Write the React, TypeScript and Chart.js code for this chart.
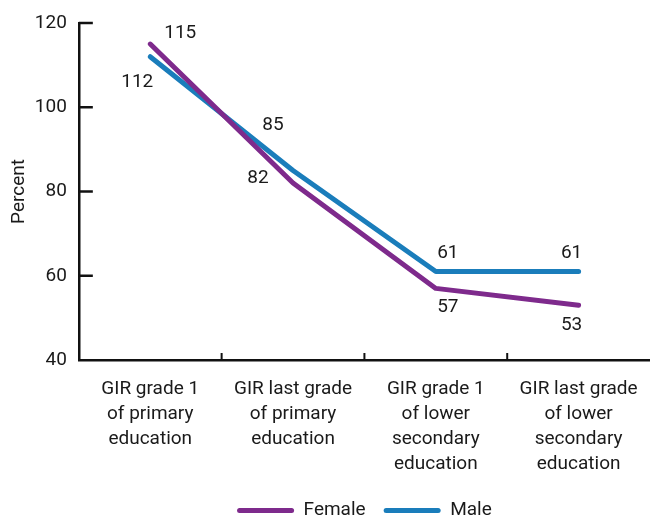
import React, { useEffect, useRef } from "react";
import { Chart, registerables } from "chart.js";

Chart.register(...registerables);

const categories: string[][] = [
  ["GIR grade 1", "of primary", "education"],
  ["GIR last grade", "of primary", "education"],
  ["GIR grade 1", "of lower", "secondary", "education"],
  ["GIR last grade", "of lower", "secondary", "education"],
];
const femaleValues = [115, 82, 57, 53];
const maleValues = [112, 85, 61, 61];
const yTicks = [40, 60, 80, 100, 120];

// label placement offsets (styling only)
const femaleLabelOffsets = [[30, -11], [-35, -5], [12, 19], [-7, 20]];
const maleLabelOffsets = [[-13, 26], [-20, -45], [12, -18], [-7, -18]];

const FONT = "Roboto, 'Noto Sans', sans-serif";
const FS = 19;
const PURPLE = "#7e2a8c";
const BLUE = "#1a7dbb";

const axisTicksPlugin = {
  id: "axisTicks",
  afterDraw(chart: any) {
    const ctx = chart.ctx;
    const x = chart.scales.x;
    const y = chart.scales.y;
    ctx.save();
    ctx.strokeStyle = "#111";
    ctx.lineWidth = 2.5;
    const left = chart.chartArea.left;
    const bottom = chart.chartArea.bottom;
    yTicks.forEach((v) => {
      if (v === yTicks[0]) return;
      const py = y.getPixelForValue(v);
      ctx.beginPath();
      ctx.moveTo(left, py);
      ctx.lineTo(left + 14, py);
      ctx.stroke();
    });
    ctx.lineWidth = 2;
    for (let i = 0; i < categories.length - 1; i++) {
      const px = (x.getPixelForValue(i) + x.getPixelForValue(i + 1)) / 2;
      ctx.beginPath();
      ctx.moveTo(px, bottom);
      ctx.lineTo(px, bottom - 7);
      ctx.stroke();
    }
    ctx.restore();
  },
};

const dataLabelsPlugin = {
  id: "dataLabels",
  afterDatasetsDraw(chart: any) {
    const ctx = chart.ctx;
    ctx.save();
    ctx.font = `${FS}px ${FONT}`;
    ctx.fillStyle = "#1a1a1a";
    ctx.textAlign = "center";
    ctx.textBaseline = "middle";
    const offsets = [femaleLabelOffsets, maleLabelOffsets];
    chart.data.datasets.forEach((ds: any, di: number) => {
      const meta = chart.getDatasetMeta(di);
      meta.data.forEach((pt: any, i: number) => {
        const [dx, dy] = offsets[di][i];
        ctx.fillText(String(ds.data[i]), pt.x + dx, pt.y + dy);
      });
    });
    ctx.restore();
  },
};

export default function App() {
  const ref = useRef<HTMLCanvasElement | null>(null);
  useEffect(() => {
    document.body.style.margin = "0";
    const chart = new Chart(ref.current as HTMLCanvasElement, {
      type: "line",
      data: {
        labels: categories as any,
        datasets: [
          {
            label: "Female",
            data: femaleValues,
            borderColor: PURPLE,
            backgroundColor: PURPLE,
            borderWidth: 5,
            pointRadius: 0,
            tension: 0,
            borderCapStyle: "round",
            borderJoinStyle: "round",
          },
          {
            label: "Male",
            data: maleValues,
            borderColor: BLUE,
            backgroundColor: BLUE,
            borderWidth: 5,
            pointRadius: 0,
            tension: 0,
            borderCapStyle: "round",
            borderJoinStyle: "round",
          },
        ],
      },
      options: {
        animation: false,
        responsive: false,
        layout: { padding: { top: 23, right: 0, left: 0, bottom: -11 } },
        plugins: {
          tooltip: { enabled: false },
          legend: {
            position: "bottom",
            fullSize: false,
            labels: {
              color: "#1a1a1a",
              font: { family: FONT, size: FS },
              boxWidth: 57,
              boxHeight: 5,
              padding: 18,
              generateLabels(chart: any) {
                const items = Chart.defaults.plugins.legend.labels.generateLabels(chart);
                return items.map((it: any) => ({ ...it, lineWidth: 0, borderRadius: 2.5 }));
              },
            },
          },
        },
        scales: {
          x: {
            offset: true,
            grid: { display: false, offset: true },
            border: { display: true, color: "#111", width: 2.5 },
            afterFit(scale: any) {
              scale.height = scale.height - 3;
            },
            ticks: {
              color: "#1a1a1a",
              font: { family: FONT, size: FS, lineHeight: 25 / 19 },
              padding: 9,
              maxRotation: 0,
              autoSkip: false,
            },
          },
          y: {
            min: 40,
            max: 120,
            grid: { display: false },
            border: { display: true, color: "#111", width: 2.5 },
            afterBuildTicks(scale: any) {
              scale.ticks = yTicks.map((v) => ({ value: v }));
            },
            ticks: {
              color: "#1a1a1a",
              font: { family: FONT, size: FS },
              padding: 4,
            },
            title: {
              display: true,
              text: "Percent",
              color: "#1a1a1a",
              font: { family: FONT, size: FS },
              padding: { top: 8, bottom: 0 },
            },
          },
        },
      },
      plugins: [axisTicksPlugin, dataLabelsPlugin],
    } as any);
    return () => chart.destroy();
  }, []);
  return <canvas ref={ref} width={650} height={519} style={{ display: "block" }} />;
}
